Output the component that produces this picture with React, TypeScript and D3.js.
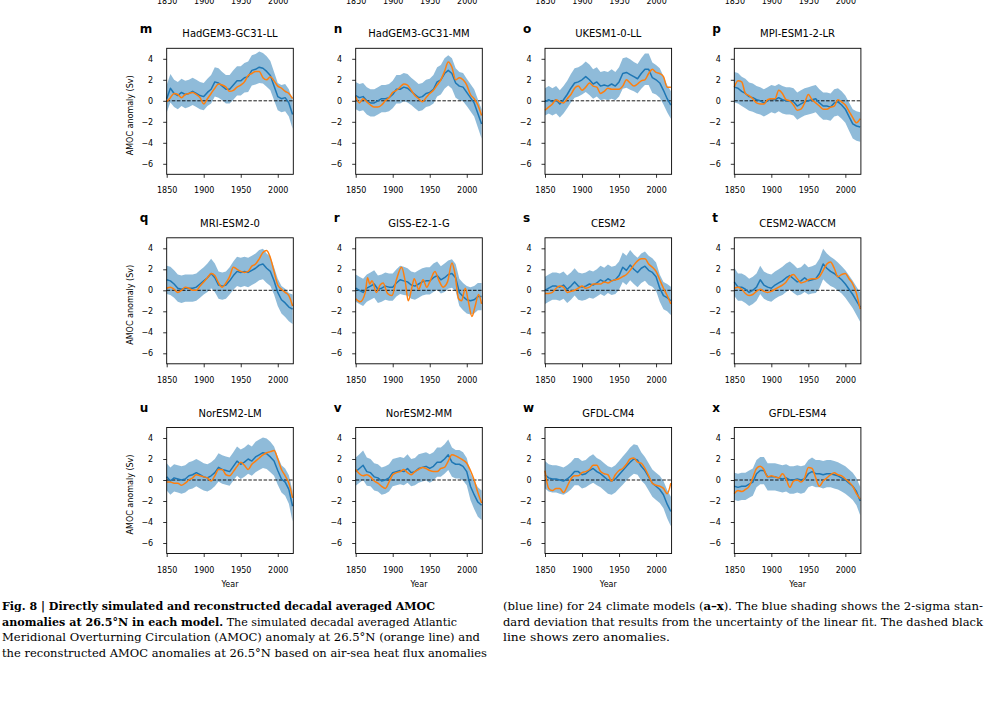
import React, { useEffect, useRef } from "react";
import * as d3 from "d3";

// 5-year sampling of the decadal running means
const YEARS = [
  1850, 1855, 1860, 1865, 1870, 1875, 1880, 1885, 1890, 1895, 1900, 1905,
  1910, 1915, 1920, 1925, 1930, 1935, 1940, 1945, 1950, 1955, 1960, 1965,
  1970, 1975, 1980, 1985, 1990, 1995, 2000, 2005, 2010, 2015, 2020,
];
const X_TICKS = [1850, 1900, 1950, 2000];
const Y_TICKS = [-6, -4, -2, 0, 2, 4];

// m HadGEM3-GC31-LL
const HADGEM_LL_RECON = [0.2, 1.2, 0.7, 0.5, 0.8, 0.6, 0.7, 0.9, 0.7, 0.5, 0.4, 0.8, 1.1, 1.8, 1.7, 1.4, 1.1, 1.1, 1.5, 1.9, 1.9, 2.2, 2.3, 2.9, 3.0, 3.2, 3.1, 2.8, 2.4, 1.4, 0.4, 0.2, 0.3, -0.2, -1.3];
const HADGEM_LL_SIM = [-0.1, 0.3, 0.7, 0.6, 0.3, 0.6, 0.7, 0.8, 0.6, 0.3, -0.3, 0.2, 0.7, 1.2, 1.6, 1.5, 1.3, 0.9, 1.0, 1.3, 1.5, 1.8, 2.4, 2.6, 2.8, 2.8, 2.2, 2.0, 2.3, 1.9, 1.4, 1.2, 0.9, 0.7, 0.2];
const HADGEM_LL_SD = [1.3, 1.35, 1.3, 1.3, 1.3, 1.3, 1.3, 1.3, 1.3, 1.3, 1.3, 1.3, 1.35, 1.4, 1.4, 1.35, 1.35, 1.35, 1.4, 1.4, 1.4, 1.4, 1.45, 1.45, 1.45, 1.5, 1.45, 1.45, 1.4, 1.35, 1.3, 1.3, 1.3, 1.3, 1.35];

// n HadGEM3-GC31-MM
const HADGEM_MM_RECON = [0.5, 0.3, 0.4, 0.0, -0.2, -0.2, 0.0, 0.2, 0.2, 0.3, 0.6, 1.1, 1.1, 1.3, 1.2, 0.9, 0.6, 0.3, 0.4, 0.7, 0.8, 1.1, 1.8, 2.0, 2.6, 2.9, 2.6, 1.7, 1.4, 1.3, 0.8, 0.3, -0.2, -1.2, -2.2];
const HADGEM_MM_SIM = [0.4, -0.2, 0.2, -0.1, -0.4, -0.6, -0.6, -0.4, 0.0, 0.3, 0.8, 1.0, 1.3, 1.6, 1.5, 1.0, 0.5, 0.2, -0.1, 0.3, 0.7, 1.0, 1.5, 2.0, 2.8, 3.7, 3.2, 2.0, 2.2, 2.0, 1.5, 0.6, 0.2, -0.4, -1.4];
const HADGEM_MM_SD = [1.3, 1.3, 1.3, 1.3, 1.3, 1.3, 1.3, 1.3, 1.3, 1.3, 1.3, 1.35, 1.35, 1.35, 1.35, 1.3, 1.3, 1.3, 1.3, 1.3, 1.3, 1.35, 1.4, 1.4, 1.45, 1.45, 1.45, 1.4, 1.35, 1.35, 1.3, 1.3, 1.3, 1.35, 1.4];

// o UKESM1-0-LL
const UKESM_RECON = [-0.1, 0.1, -0.1, 0.1, -0.3, 0.1, 0.6, 1.2, 1.7, 1.8, 2.0, 2.3, 2.0, 1.6, 1.8, 1.4, 1.5, 1.4, 1.6, 1.4, 1.8, 2.6, 2.7, 2.5, 2.3, 2.1, 2.6, 3.0, 3.0, 2.2, 2.0, 1.7, 1.0, 0.2, -0.4];
const UKESM_SIM = [-0.9, -0.6, -0.3, 0.1, -0.1, -0.2, 0.2, 0.6, 1.2, 1.4, 1.0, 1.3, 1.7, 1.4, 1.3, 0.7, 0.9, 1.2, 1.1, 1.1, 1.1, 1.4, 2.0, 1.7, 1.4, 1.6, 1.9, 2.0, 2.6, 3.0, 2.7, 2.6, 2.3, 1.3, 1.3];
const UKESM_SD = [1.3, 1.3, 1.3, 1.3, 1.3, 1.3, 1.3, 1.35, 1.4, 1.4, 1.4, 1.45, 1.45, 1.4, 1.4, 1.35, 1.35, 1.35, 1.4, 1.35, 1.4, 1.45, 1.45, 1.45, 1.4, 1.4, 1.45, 1.5, 1.5, 1.45, 1.4, 1.4, 1.35, 1.3, 1.3];

// p MPI-ESM1-2-LR
const MPI_RECON = [1.3, 1.2, 0.9, 0.7, 0.4, 0.3, 0.1, 0.0, -0.2, 0.0, 0.2, 0.1, 0.3, 0.1, 0.0, 0.0, -0.1, -0.5, -0.3, -0.1, 0.0, 0.1, 0.2, -0.2, -0.5, -0.5, -0.6, -0.2, -0.1, -0.4, -0.8, -1.5, -2.2, -2.4, -2.5];
const MPI_SIM = [1.3, 1.9, 1.8, 0.7, 0.5, 0.2, -0.2, -0.3, -0.3, 0.1, 0.2, 0.2, 1.0, 0.7, 0.1, 0.0, -0.4, -0.9, -0.8, -0.2, 0.6, 0.1, -0.2, -0.5, -0.8, -0.8, -0.6, -0.5, 0.1, -0.1, -0.4, -1.0, -1.6, -2.1, -1.7];
const MPI_SD = [1.45, 1.45, 1.4, 1.4, 1.35, 1.35, 1.3, 1.3, 1.3, 1.3, 1.3, 1.3, 1.3, 1.3, 1.3, 1.3, 1.3, 1.3, 1.3, 1.3, 1.3, 1.3, 1.3, 1.3, 1.3, 1.3, 1.3, 1.3, 1.3, 1.3, 1.3, 1.35, 1.4, 1.4, 1.4];

// q MRI-ESM2-0
const MRI_RECON = [1.0, 0.9, 0.6, 0.2, 0.1, 0.2, 0.2, 0.2, 0.3, 0.6, 0.9, 1.2, 1.6, 1.2, 0.5, 0.4, 0.5, 0.9, 1.4, 1.8, 1.7, 1.8, 1.7, 1.9, 2.1, 2.4, 2.5, 2.1, 1.8, 0.9, -0.2, -0.9, -1.2, -1.6, -1.8];
const MRI_SIM = [0.2, 0.3, 0.1, -0.2, 0.0, 0.3, 0.2, 0.0, 0.0, 0.4, 0.8, 1.2, 1.6, 1.4, 0.7, 0.3, 0.7, 1.3, 2.2, 2.0, 1.8, 1.7, 1.8, 2.3, 2.5, 3.0, 3.6, 3.8, 3.1, 1.8, 0.5, 0.1, -0.2, -0.5, -1.5];
const MRI_SD = [1.35, 1.35, 1.3, 1.3, 1.3, 1.3, 1.3, 1.3, 1.3, 1.3, 1.3, 1.35, 1.4, 1.35, 1.3, 1.3, 1.3, 1.3, 1.35, 1.4, 1.4, 1.4, 1.4, 1.4, 1.4, 1.45, 1.45, 1.4, 1.4, 1.3, 1.3, 1.3, 1.35, 1.35, 1.4];

// r GISS-E2-1-G (simulated curve is much more wiggly, read at its turning points)
const GISS_RECON = [0.2, 0.0, -0.2, 0.2, 0.4, 0.6, 0.1, 0.2, 0.4, 0.3, 0.3, 0.7, 1.0, 0.9, 0.8, 0.5, 0.4, 0.6, 0.8, 0.9, 0.9, 1.2, 1.4, 1.0, 1.2, 1.5, 1.6, 1.2, -0.2, -0.6, -0.9, -1.0, -0.9, -0.6, -0.6];
const GISS_SIM_YEARS = [1850, 1856, 1863, 1866, 1869, 1872, 1878, 1883, 1887, 1893, 1899, 1905, 1912, 1917, 1921, 1926, 1929, 1935, 1941, 1946, 1950, 1957, 1962, 1968, 1974, 1980, 1984, 1989, 1993, 1998, 2002, 2007, 2011, 2016, 2020];
const GISS_SIM = [-0.8, -1.1, -0.2, 1.2, 0.6, 0.9, -0.2, 0.5, 0.7, -0.3, -0.5, 1.0, 2.2, 0.8, -1.0, 0.3, 1.1, 0.1, 1.0, 0.3, 0.8, 1.8, 1.0, 0.3, 0.8, 2.6, 1.6, -0.8, -1.0, 0.2, -1.0, -2.5, -1.6, -0.4, -1.3];
const GISS_SD = [1.3, 1.3, 1.3, 1.3, 1.3, 1.3, 1.3, 1.3, 1.3, 1.3, 1.3, 1.3, 1.35, 1.35, 1.3, 1.3, 1.3, 1.3, 1.3, 1.3, 1.3, 1.35, 1.35, 1.3, 1.35, 1.35, 1.35, 1.3, 1.3, 1.3, 1.3, 1.3, 1.3, 1.3, 1.3];

// s CESM2
const CESM2_RECON = [0.0, 0.2, 0.4, 0.4, 0.3, 0.5, 0.1, 0.4, 0.8, 0.4, 0.3, 0.4, 0.6, 0.5, 0.7, 1.0, 0.8, 1.1, 0.9, 1.0, 1.4, 2.2, 1.9, 2.4, 2.0, 1.7, 2.1, 2.3, 1.9, 1.7, 1.3, 0.2, -0.5, -0.7, -1.0];
const CESM2_SIM = [-0.3, -0.3, -0.2, 0.2, 0.4, 0.3, -0.2, -0.1, 0.0, 0.2, 0.4, 0.2, 0.3, 0.6, 0.6, 0.6, 0.8, 0.7, 0.9, 1.0, 1.1, 1.3, 1.5, 1.9, 2.4, 2.8, 3.0, 3.0, 2.5, 2.2, 1.8, 1.0, 0.2, -0.5, -1.3];
const CESM2_SD = [1.3, 1.3, 1.3, 1.3, 1.3, 1.3, 1.3, 1.3, 1.3, 1.3, 1.3, 1.3, 1.3, 1.3, 1.3, 1.35, 1.35, 1.35, 1.35, 1.35, 1.35, 1.4, 1.4, 1.45, 1.4, 1.4, 1.4, 1.4, 1.4, 1.35, 1.35, 1.3, 1.3, 1.3, 1.35];

// t CESM2-WACCM
const WACCM_RECON = [0.8, 0.3, 0.3, 0.1, -0.2, 0.0, 0.3, 1.0, 0.5, 0.3, 0.2, 0.5, 0.7, 0.9, 1.2, 1.4, 1.1, 0.8, 0.9, 1.2, 0.9, 1.0, 1.1, 1.6, 2.5, 2.1, 1.8, 1.6, 1.3, 1.0, 0.6, 0.1, -0.4, -1.0, -1.6];
const WACCM_SIM = [0.2, 0.3, 0.1, -0.3, -0.5, -0.4, -0.1, 0.1, -0.1, -0.2, -0.1, 0.1, 0.3, 0.5, 0.8, 1.3, 1.5, 1.1, 0.7, 0.8, 1.0, 1.1, 1.1, 1.3, 1.9, 2.5, 2.7, 2.1, 1.3, 1.5, 1.6, 1.1, 0.6, -0.3, -1.8];
const WACCM_SD = [1.35, 1.3, 1.3, 1.3, 1.3, 1.3, 1.3, 1.35, 1.3, 1.3, 1.3, 1.3, 1.3, 1.35, 1.35, 1.35, 1.35, 1.3, 1.3, 1.35, 1.3, 1.3, 1.35, 1.4, 1.45, 1.4, 1.4, 1.35, 1.35, 1.3, 1.3, 1.3, 1.3, 1.35, 1.4];

// u NorESM2-LM
const NOR_LM_RECON = [0.3, -0.1, 0.2, 0.1, 0.0, 0.1, 0.4, 0.5, 0.7, 0.5, 0.3, 0.2, 0.4, 0.7, 1.2, 1.0, 0.9, 0.8, 1.3, 1.8, 1.5, 1.7, 2.0, 1.8, 2.2, 2.4, 2.6, 2.5, 2.2, 1.8, 0.9, 0.1, -0.2, -0.9, -2.5];
const NOR_LM_SIM = [-0.2, -0.2, -0.3, -0.3, -0.5, -0.3, 0.0, 0.2, 0.5, 0.4, 0.3, 0.2, -0.1, 0.4, 1.0, 1.0, 0.5, 0.4, 0.8, 1.3, 1.7, 1.4, 1.0, 1.5, 1.8, 2.1, 2.4, 2.6, 2.7, 2.8, 2.0, 1.0, 0.4, -0.3, -1.7];
const NOR_LM_SD = [1.3, 1.3, 1.3, 1.3, 1.3, 1.3, 1.3, 1.3, 1.3, 1.3, 1.3, 1.3, 1.3, 1.3, 1.35, 1.35, 1.35, 1.35, 1.35, 1.4, 1.4, 1.4, 1.4, 1.4, 1.45, 1.45, 1.45, 1.45, 1.45, 1.4, 1.35, 1.3, 1.3, 1.35, 1.45];

// v NorESM2-MM
const NOR_MM_RECON = [0.8, 1.1, 1.4, 0.8, 0.7, 0.3, 0.2, -0.1, 0.0, 0.2, 0.7, 0.8, 0.9, 0.8, 1.1, 0.7, 0.8, 1.1, 1.2, 1.3, 1.1, 1.3, 1.7, 1.7, 2.0, 2.4, 1.7, 1.5, 1.5, 1.3, 0.8, -0.6, -1.4, -2.1, -2.4];
const NOR_MM_SIM = [1.0, 0.6, 0.4, 0.5, 0.3, -0.1, -0.3, -0.6, -0.8, -0.2, 0.5, 0.7, 0.8, 1.0, 0.7, 0.5, 0.8, 1.0, 1.2, 1.1, 0.9, 0.8, 0.8, 1.1, 1.2, 1.8, 2.4, 2.3, 2.1, 1.9, 1.6, 0.9, 0.0, -1.2, -2.2];
const NOR_MM_SD = [1.35, 1.35, 1.4, 1.35, 1.3, 1.3, 1.3, 1.3, 1.3, 1.3, 1.3, 1.3, 1.3, 1.3, 1.35, 1.3, 1.3, 1.35, 1.35, 1.35, 1.35, 1.35, 1.4, 1.4, 1.4, 1.45, 1.4, 1.35, 1.35, 1.35, 1.3, 1.3, 1.35, 1.4, 1.4];

// w GFDL-CM4
const CM4_RECON = [0.5, 0.2, 0.1, 0.1, 0.0, -0.1, 0.1, 0.4, 0.8, 0.8, 0.5, 0.6, 0.9, 1.1, 0.8, 0.6, 0.3, 0.0, -0.1, 0.1, 0.5, 0.9, 1.3, 1.7, 2.0, 1.9, 1.3, 0.9, 0.3, -0.3, -0.6, -0.9, -1.4, -2.3, -3.0];
const CM4_SIM = [0.9, -0.8, -1.0, -0.8, -0.8, -1.2, -0.6, 0.1, 0.4, 0.4, 0.7, 0.8, 1.0, 1.4, 1.4, 0.8, 0.6, 0.5, -0.1, 0.5, 0.9, 1.1, 1.5, 2.0, 2.1, 1.7, 1.6, 1.1, 0.4, -0.3, -0.5, -0.6, -0.8, -1.3, -0.3];
const CM4_SD = [1.3, 1.3, 1.3, 1.3, 1.3, 1.3, 1.3, 1.3, 1.3, 1.3, 1.3, 1.3, 1.35, 1.35, 1.3, 1.3, 1.3, 1.3, 1.3, 1.3, 1.3, 1.35, 1.35, 1.4, 1.4, 1.4, 1.35, 1.3, 1.3, 1.3, 1.3, 1.3, 1.3, 1.35, 1.4];

// x GFDL-ESM4
const ESM4_RECON = [-0.6, -0.7, -0.6, -0.6, -0.4, -0.2, 0.6, 0.9, 0.9, 0.3, 0.3, 0.3, 0.2, 0.1, 0.2, 0.0, 0.0, 0.1, 0.0, 0.1, 0.6, 0.8, 0.6, 0.6, 0.5, 0.6, 0.6, 0.5, 0.4, 0.2, 0.0, -0.3, -0.6, -1.1, -2.0];
const ESM4_SIM = [-1.3, -1.0, -1.1, -0.9, -0.6, 0.2, 1.1, 1.3, 1.0, 0.3, 0.4, 0.3, 0.2, 0.6, 0.1, -0.7, -0.1, 0.0, -0.2, 0.2, 1.2, 1.1, 0.2, -0.6, -0.1, 0.2, 0.5, 0.7, 0.5, 0.4, 0.1, -0.2, -0.6, -1.3, -1.8];
const ESM4_SD = [1.3, 1.3, 1.3, 1.3, 1.3, 1.3, 1.3, 1.3, 1.3, 1.3, 1.3, 1.3, 1.3, 1.3, 1.3, 1.3, 1.3, 1.3, 1.3, 1.3, 1.3, 1.35, 1.3, 1.3, 1.3, 1.3, 1.3, 1.3, 1.3, 1.3, 1.3, 1.3, 1.3, 1.3, 1.35];

interface Panel {
  letter: string;
  name: string;
  recon: number[];
  sim: number[];
  sd: number[];
  simYears?: number[];
}

const PANELS: Panel[] = [
  { letter: "m", name: "HadGEM3-GC31-LL", recon: HADGEM_LL_RECON, sim: HADGEM_LL_SIM, sd: HADGEM_LL_SD },
  { letter: "n", name: "HadGEM3-GC31-MM", recon: HADGEM_MM_RECON, sim: HADGEM_MM_SIM, sd: HADGEM_MM_SD },
  { letter: "o", name: "UKESM1-0-LL", recon: UKESM_RECON, sim: UKESM_SIM, sd: UKESM_SD },
  { letter: "p", name: "MPI-ESM1-2-LR", recon: MPI_RECON, sim: MPI_SIM, sd: MPI_SD },
  { letter: "q", name: "MRI-ESM2-0", recon: MRI_RECON, sim: MRI_SIM, sd: MRI_SD },
  { letter: "r", name: "GISS-E2-1-G", recon: GISS_RECON, sim: GISS_SIM, sd: GISS_SD, simYears: GISS_SIM_YEARS },
  { letter: "s", name: "CESM2", recon: CESM2_RECON, sim: CESM2_SIM, sd: CESM2_SD },
  { letter: "t", name: "CESM2-WACCM", recon: WACCM_RECON, sim: WACCM_SIM, sd: WACCM_SD },
  { letter: "u", name: "NorESM2-LM", recon: NOR_LM_RECON, sim: NOR_LM_SIM, sd: NOR_LM_SD },
  { letter: "v", name: "NorESM2-MM", recon: NOR_MM_RECON, sim: NOR_MM_SIM, sd: NOR_MM_SD },
  { letter: "w", name: "GFDL-CM4", recon: CM4_RECON, sim: CM4_SIM, sd: CM4_SD },
  { letter: "x", name: "GFDL-ESM4", recon: ESM4_RECON, sim: ESM4_SIM, sd: ESM4_SD },
];

type Run = { t: string; b?: boolean };
const CAPTION_LEFT: Run[][] = [
  [{ t: "Fig. 8 | Directly simulated and reconstructed decadal averaged AMOC", b: true }],
  [{ t: "anomalies at 26.5°N in each model.", b: true }, { t: " The simulated decadal averaged Atlantic" }],
  [{ t: "Meridional Overturning Circulation (AMOC) anomaly at 26.5°N (orange line) and" }],
  [{ t: "the reconstructed AMOC anomalies at 26.5°N based on air-sea heat flux anomalies" }],
];
const CAPTION_RIGHT: Run[][] = [
  [{ t: "(blue line) for 24 climate models (" }, { t: "a–x", b: true }, { t: "). The blue shading shows the 2-sigma stan-" }],
  [{ t: "dard deviation that results from the uncertainty of the linear fit. The dashed black" }],
  [{ t: "line shows zero anomalies." }],
];
const CAPTION_LEFT_W = [433, 455, 478, 485];
const CAPTION_RIGHT_W = [480, 480, 167];

const W = 997;
const H = 703;
const BLUE = "#1f77b4";
const ORANGE = "#ff7f0e";
const SANS = "DejaVu Sans, sans-serif";

export default function App() {
  const svgRef = useRef<SVGSVGElement>(null);

  useEffect(() => {
    if (!svgRef.current) return;
    const svg = d3.select(svgRef.current);
    svg.selectAll("*").remove();

    svg.append("rect").attr("width", W).attr("height", H).attr("fill", "#fff");

    // panel grid
    const colX = [166.7, 355.7, 545, 734.3];
    const rowY = [48.3, 237.8, 427.5];
    const rowStep = 189.6;
    const pw = 126.6;
    const ph = 126;

    const x = d3.scaleLinear().domain([1850, 2021]).range([0, pw]);
    const y = d3.scaleLinear().domain([-7, 5]).range([ph, 0]);

    const xAxis = d3.axisBottom(x).tickValues(X_TICKS).tickFormat(d3.format("d") as any).tickSize(3.5).tickPadding(10);
    const yAxis = d3.axisLeft(y).tickValues(Y_TICKS).tickFormat(d3.format("d") as any).tickSize(3.5).tickPadding(10);

    const styleAxis = (g: any) => {
      g.select(".domain").remove();
      g.selectAll(".tick line").attr("stroke", "#000").attr("stroke-width", 0.8);
      g.selectAll(".tick text")
        .attr("fill", "#000")
        .style("font-size", "8px")
        .style("font-family", SANS);
    };

    // tick labels of the row above, cut by the page top
    colX.forEach((cx) => {
      svg
        .append("g")
        .attr("transform", `translate(${cx},${rowY[0] - rowStep + ph})`)
        .call(xAxis)
        .call(styleAxis);
    });

    PANELS.forEach((p, i) => {
      const col = i % 4;
      const row = Math.floor(i / 4);
      const g = svg.append("g").attr("transform", `translate(${colX[col]},${rowY[row]})`);

      // 2-sigma band
      const band = d3
        .area<number>()
        .x((_, k) => x(YEARS[k]))
        .y0((d, k) => y(d - p.sd[k]))
        .y1((d, k) => y(d + p.sd[k]));
      g.append("path").datum(p.recon).attr("d", band).attr("fill", BLUE).attr("fill-opacity", 0.5);

      // zero line
      g.append("line")
        .attr("x1", 0)
        .attr("x2", pw)
        .attr("y1", y(0))
        .attr("y2", y(0))
        .attr("stroke", "#000")
        .attr("stroke-width", 0.9)
        .attr("stroke-dasharray", "3.5,1.6");

      // reconstructed (blue)
      const blueLine = d3
        .line<number>()
        .x((_, k) => x(YEARS[k]))
        .y((d) => y(d));
      g.append("path")
        .datum(p.recon)
        .attr("d", blueLine)
        .attr("fill", "none")
        .attr("stroke", BLUE)
        .attr("stroke-width", 1.5)
        .attr("stroke-linejoin", "round");

      // simulated (orange)
      const simYears = p.simYears || YEARS;
      const orangeLine = d3
        .line<number>()
        .x((_, k) => x(simYears[k]))
        .y((d) => y(d))
        .curve(d3.curveMonotoneX);
      g.append("path")
        .datum(p.sim)
        .attr("d", orangeLine)
        .attr("fill", "none")
        .attr("stroke", ORANGE)
        .attr("stroke-width", 1.5)
        .attr("stroke-linejoin", "round");

      // axes
      g.append("g").attr("transform", `translate(0,${ph})`).call(xAxis).call(styleAxis);
      g.append("g").call(yAxis).call(styleAxis);

      g.append("rect")
        .attr("width", pw)
        .attr("height", ph)
        .attr("fill", "none")
        .attr("stroke", "#000")
        .attr("stroke-width", 0.9);

      // title + panel letter
      g.append("text")
        .attr("x", pw / 2)
        .attr("y", -11)
        .attr("text-anchor", "middle")
        .style("font-family", SANS)
        .style("font-size", "10px")
        .text(p.name);

      g.append("text")
        .attr("x", col === 0 ? -27 : -22)
        .attr("y", -15.5)
        .style("font-family", SANS)
        .style("font-size", "12px")
        .style("font-weight", "bold")
        .text(p.letter);

      if (col === 0) {
        g.append("text")
          .attr("transform", `translate(-33.5,${ph / 2 + 4}) rotate(-90)`)
          .attr("text-anchor", "middle")
          .style("font-family", SANS)
          .style("font-size", "8px")
          .text("AMOC anomaly (Sv)");
      }
      if (row === 2) {
        g.append("text")
          .attr("x", pw / 2)
          .attr("y", ph + 33.5)
          .attr("text-anchor", "middle")
          .style("font-family", SANS)
          .style("font-size", "8px")
          .text("Year");
      }
    });

    // caption
    const cap = svg
      .append("g")
      .style("font-family", "DejaVu Serif, serif")
      .style("font-size", "10.5px")
      .style("white-space", "pre");
    const drawLines = (lines: Run[][], widths: number[], x0: number) => {
      lines.forEach((runs, li) => {
        const t = cap
          .append("text")
          .attr("x", x0)
          .attr("y", 610 + li * 15.6)
          .attr("textLength", widths[li])
          .attr("lengthAdjust", "spacingAndGlyphs");
        runs.forEach((r) => {
          t.append("tspan")
            .style("font-weight", r.b ? "bold" : "normal")
            .text(r.t);
        });
      });
    };
    drawLines(CAPTION_LEFT, CAPTION_LEFT_W, 2);
    drawLines(CAPTION_RIGHT, CAPTION_RIGHT_W, 503);
  }, []);

  return (
    <div style={{ position: "absolute", left: 0, top: 0 }}>
      <svg ref={svgRef} width={W} height={H} style={{ display: "block" }} />
    </div>
  );
}
